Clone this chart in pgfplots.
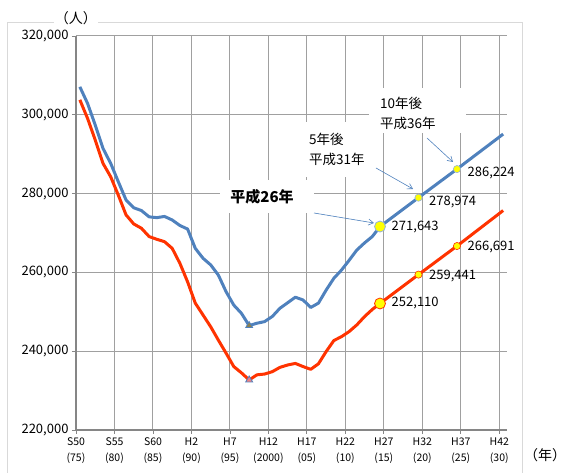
\documentclass[border=0pt]{standalone}
\usepackage{fontspec}
\setmainfont{Noto Sans CJK JP}
\usepackage{pgfplots}
\usepackage{pgfplotstable}
\pgfplotsset{compat=1.18}
\usetikzlibrary{arrows.meta}

\definecolor{blueline}{RGB}{79,129,189}
\definecolor{redline}{RGB}{255,51,0}
\definecolor{gridgray}{RGB}{160,160,160}
\definecolor{axisgray}{RGB}{134,134,134}
\definecolor{framegray}{RGB}{217,217,217}
\definecolor{trifill}{RGB}{138,128,80}
\definecolor{pinkfill}{RGB}{240,128,128}
\definecolor{markyellow}{RGB}{255,255,0}

% blue: upper series, red: lower series (persons)
\pgfplotstableread{
year v
1975 307100
1976 302900
1977 297400
1978 291500
1979 287700
1980 283000
1981 278400
1982 276400
1983 275700
1984 274100
1985 273900
1986 274200
1987 273300
1988 271900
1989 271000
1990 266100
1991 263600
1992 261900
1993 259300
1994 255100
1995 251700
1996 249600
1997 246500
1998 247100
1999 247500
2000 248800
2001 250900
2002 252300
2003 253700
2004 253000
2005 251100
2006 252200
2007 255500
2008 258500
2009 260600
2010 263100
2011 265700
2012 267500
2013 269100
2014 271643
2019 278974
2024 286224
2030 295100
}\bluedata

\pgfplotstableread{
year v
1975 303800
1976 299100
1977 293600
1978 287700
1979 284300
1980 279600
1981 274600
1982 272300
1983 271200
1984 269100
1985 268400
1986 267800
1987 266100
1988 262300
1989 257600
1990 252200
1991 249200
1992 246200
1993 242800
1994 239500
1995 236100
1996 234500
1997 232700
1998 234000
1999 234200
2000 234800
2001 235900
2002 236500
2003 236900
2004 236100
2005 235400
2006 236800
2007 239900
2008 242700
2009 243700
2010 245000
2011 246700
2012 248800
2013 250600
2014 252110
2019 259441
2024 266691
2030 275700
}\reddata

\begin{document}
\begin{tikzpicture}
\begin{axis}[
    scale only axis,
    width=431pt, height=394pt,
    xmin=1974.5, xmax=2030.5,
    ymin=220000, ymax=320000,
    axis x line*=bottom, axis y line*=left,
    axis line style={axisgray, line width=1.3pt},
    xtick={1974.5,1979.5,...,2029.5},
    xticklabels={{S50\\(75)},{S55\\(80)},{S60\\(85)},{H2\\(90)},{H7\\(95)},{H12\\(2000)},{H17\\(05)},{H22\\(10)},{H27\\(15)},{H32\\(20)},{H37\\(25)},{H42\\(30)}},
    xticklabel style={align=center, font=\fontsize{10.5}{16.5}\selectfont},
    ytick={220000,240000,...,320000},
    scaled y ticks=false,
    yticklabel={\pgfmathprintnumber[fixed,1000 sep={,},assume math mode=true]{\tick}},
    yticklabel style={font=\fontsize{13}{15}\selectfont},
    grid=major,
    major grid style={gridgray, line width=1pt},
    tick align=outside, major tick length=4pt,
    tick style={axisgray, line width=0.8pt},
    clip=false,
    nodes near coords={\pgfmathprintnumber[fixed,1000 sep={,},assume math mode=true]{\pgfplotspointmeta}},
    nodes near coords style={anchor=west, font=\fontsize{13}{15}\selectfont},
]
\coordinate (O) at (rel axis cs:0,0);
\addplot[blueline, line width=3pt, line join=round, no marks, nodes near coords={}] table[x=year, y=v] {\bluedata};
\addplot[redline, line width=3pt, line join=round, no marks, nodes near coords={}] table[x=year, y=v] {\reddata};

% minimum markers (H9)
\addplot[only marks, mark=triangle*, mark size=4pt, nodes near coords={},
    mark options={fill=trifill, draw=blueline, line width=0.8pt}] coordinates {(1997,246500)};
\addplot[only marks, mark=triangle*, mark size=4pt, nodes near coords={},
    mark options={fill=pinkfill, draw=blueline, line width=0.8pt}] coordinates {(1997,232700)};

% H26 and projections
\addplot[only marks, mark=*, mark size=5.5pt, point meta=y,
    mark options={fill=markyellow, draw=blueline!60, line width=0.8pt},
    nodes near coords style={xshift=8pt}] coordinates {(2014,271643)};
\addplot[only marks, mark=*, mark size=3.6pt, point meta=y,
    mark options={fill=markyellow, draw=blueline!60, line width=0.6pt},
    nodes near coords style={xshift=7pt, yshift=-4pt}] coordinates {(2019,278974) (2024,286224)};
\addplot[only marks, mark=*, mark size=5.5pt, point meta=y,
    mark options={fill=markyellow, draw=redline, line width=0.8pt},
    nodes near coords style={xshift=8pt}] coordinates {(2014,252110)};
\addplot[only marks, mark=*, mark size=3.6pt, point meta=y,
    mark options={fill=markyellow, draw=redline, line width=0.6pt},
    nodes near coords style={xshift=7pt, yshift=-1pt}] coordinates {(2019,259441) (2024,266691)};
\end{axis}

\begin{scope}[shift={(O)}, shift={(-76pt,430pt)}, x=1pt, y=-1pt]
  \draw[framegray, line width=0.8pt] (7,480) -- (7,22) -- (522,22) -- (522,480);
  \node[fill=white, inner sep=1pt, font=\fontsize{14}{16}\selectfont] at (76,18) {（人）};
  \node[fill=white, inner sep=1pt, font=\fontsize{14}{16}\selectfont] at (545,455) {（年）};
  % callouts
  \fill[white] (300,122) rectangle (380,177);
  \fill[white] (369,88) rectangle (466,133);
  \fill[white] (220,180) rectangle (314,213);
  \node[anchor=west, align=left, inner sep=0pt, font=\fontsize{13.5}{20}\selectfont] at (380,113) {10年後\\平成36年};
  \node[anchor=west, align=left, inner sep=0pt, font=\fontsize{13.5}{20}\selectfont] at (309,149) {5年後\\平成31年};
  \node[inner sep=0pt, font=\fontsize{15}{17}\selectfont\bfseries] at (262,197) {平成26年};
  \draw[blueline, line width=0.6pt, -{Straight Barb[length=5pt, width=6pt]}] (314,213) -- (374,223);
  \draw[blueline, line width=0.6pt, -{Straight Barb[length=5pt, width=6pt]}] (376,168) -- (413,189);
  \draw[blueline, line width=0.6pt, -{Straight Barb[length=5pt, width=6pt]}] (427,138) -- (453,162);
\end{scope}

\pgfresetboundingbox
\path (O) ++(-76pt,-43pt) rectangle ++(565pt,473pt);
\end{tikzpicture}
\end{document}
